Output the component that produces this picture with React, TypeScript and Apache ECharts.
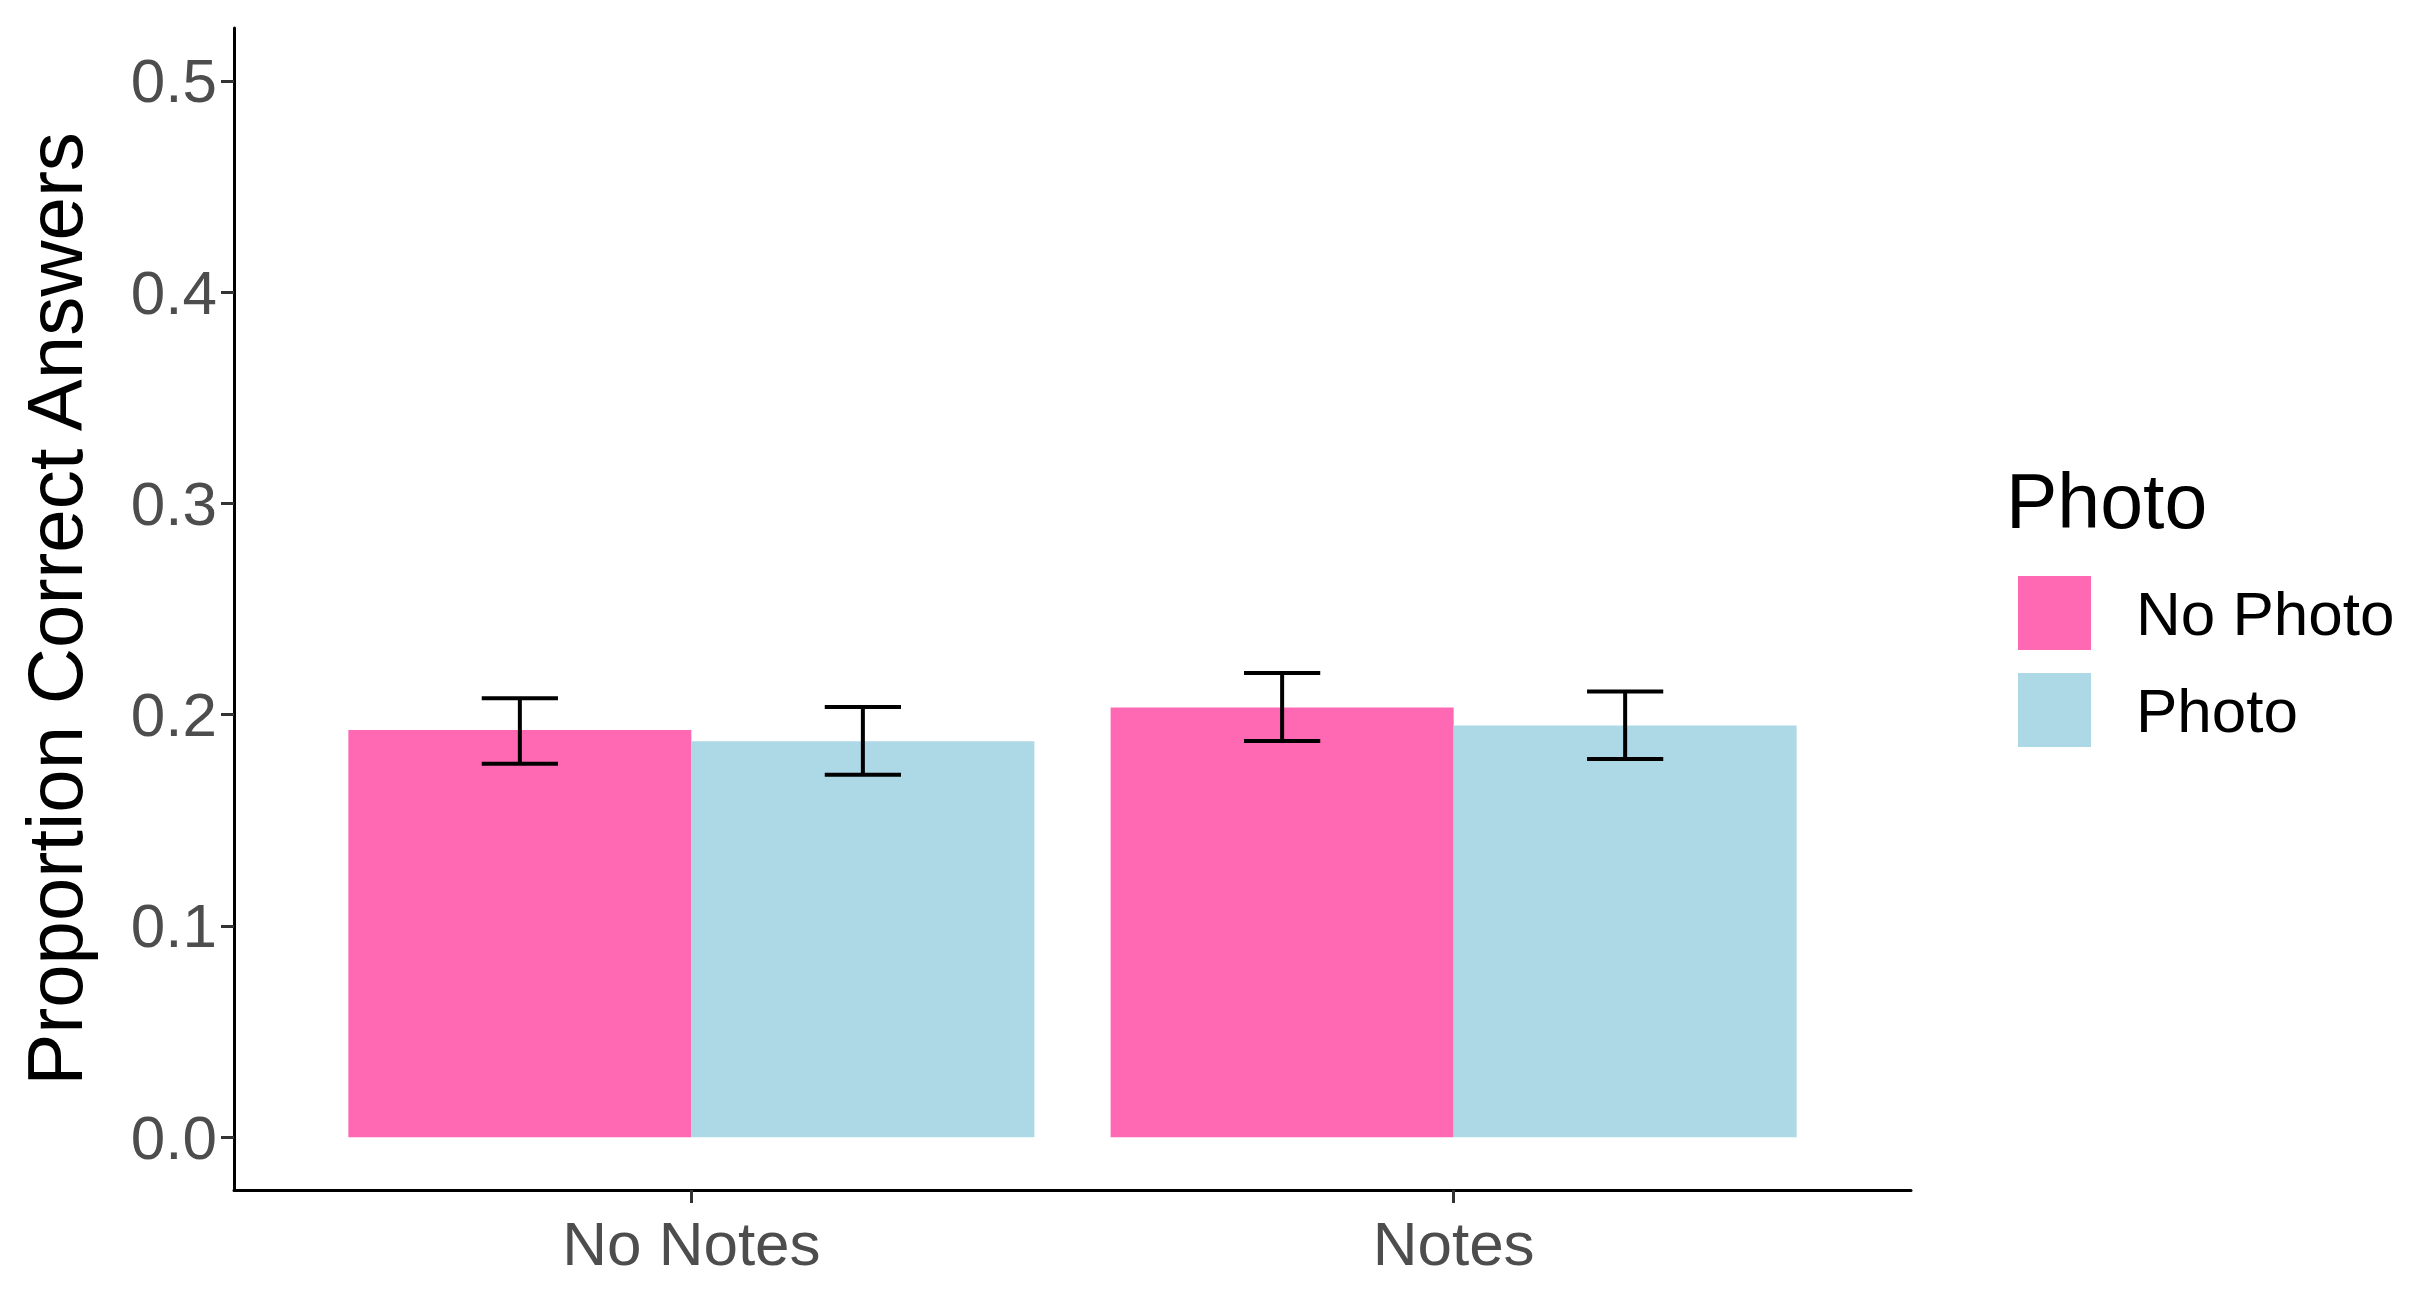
import React, { useEffect, useRef } from "react";
import * as echarts from "echarts";

const categories = ["No Notes", "Notes"];
const seriesNames = ["No Photo", "Photo"];
const noPhotoMeans = [0.1927, 0.2034];
const photoMeans = [0.1874, 0.1948];
const noPhotoLow = [0.1767, 0.1875];
const noPhotoHigh = [0.2077, 0.2197];
const photoLow = [0.1715, 0.179];
const photoHigh = [0.2036, 0.2109];
const yTicks = [0, 0.1, 0.2, 0.3, 0.4, 0.5];
const colors = ["#FF69B4", "#ADD8E6"];

const FONT = "'Liberation Sans', Arial, sans-serif";

export default function App() {
  const ref = useRef<HTMLDivElement>(null);
  useEffect(() => {
    if (!ref.current) return;
    const chart = echarts.init(ref.current, null, { renderer: "svg" });
    const plotLeft = 234;
    const plotRight = 1911;
    const plotW = plotRight - plotLeft;
    const unit = plotW / 2.2;
    const top = 28;
    const height = 1162;
    const yMin = -0.025;
    const yMax = 0.525;

    const makeErr = (lows: number[], highs: number[], sign: number, name: string) => ({
      type: "custom",
      name: name + " err",
      xAxisIndex: 1,
      yAxisIndex: 1,
      silent: true,
      data: categories.map((_, i) => [i, lows[i], highs[i]]),
      renderItem: (params: any, api: any) => {
        const band = api.size([1, 0])[0];
        const barW = band * 0.45;
        const cx = api.coord([api.value(0), 0])[0] + (sign * barW) / 2;
        const lo = api.coord([api.value(0), api.value(1)])[1];
        const hi = api.coord([api.value(0), api.value(2)])[1];
        const half = band * 0.05;
        const style = { stroke: "#000", lineWidth: 4, fill: "none" };
        return {
          type: "group",
          children: [
            { type: "line", shape: { x1: cx, y1: lo, x2: cx, y2: hi }, style },
            { type: "line", shape: { x1: cx - half, y1: lo, x2: cx + half, y2: lo }, style },
            { type: "line", shape: { x1: cx - half, y1: hi, x2: cx + half, y2: hi }, style },
          ],
        };
      },
      z: 10,
    });

    chart.setOption({
      animation: false,
      backgroundColor: "#fff",
      textStyle: { fontFamily: FONT },
      title: {
        text: "Photo",
        left: 2006,
        top: 462,
        padding: 0,
        textStyle: { fontSize: 77, fontWeight: "normal", color: "#000", fontFamily: FONT },
      },
      legend: {
        orient: "vertical",
        left: 2018,
        top: 576,
        padding: 0,
        itemWidth: 73,
        itemHeight: 74,
        itemGap: 23,
        icon: "rect",
        data: seriesNames,
        textStyle: { fontSize: 62, color: "#000", fontFamily: FONT, padding: [0, 0, 0, 40] },
      },
      grid: [
        { left: plotLeft, top, width: plotW, height },
        { left: plotLeft + 0.1 * unit, top, width: 2 * unit, height },
      ],
      xAxis: [
        {
          type: "value",
          gridIndex: 0,
          min: 0,
          max: 1,
          axisLine: { show: true, onZero: false, lineStyle: { color: "#000", width: 3 } },
          axisTick: { show: false },
          axisLabel: { show: false },
          splitLine: { show: false },
        },
        {
          type: "category",
          gridIndex: 1,
          data: categories,
          axisLine: { show: false, onZero: false },
          axisTick: { show: true, alignWithLabel: true, length: 13, lineStyle: { color: "#333", width: 3 } },
          axisLabel: { fontSize: 62, color: "#4d4d4d", margin: 22, fontFamily: FONT },
          splitLine: { show: false },
        },
      ],
      yAxis: [
        {
          type: "value",
          gridIndex: 0,
          min: yMin,
          max: yMax,
          name: "Proportion Correct Answers",
          nameLocation: "middle",
          nameGap: 140,
          nameRotate: 90,
          nameTextStyle: { fontSize: 78, color: "#000", fontFamily: FONT },
          axisLine: { show: true, onZero: false, lineStyle: { color: "#000", width: 3 } },
          axisTick: { show: true, length: 13, lineStyle: { color: "#333", width: 3 }, customValues: yTicks },
          axisLabel: {
            fontSize: 62,
            color: "#4d4d4d",
            margin: 17,
            fontFamily: FONT,
            customValues: yTicks,
            formatter: (v: number) => v.toFixed(1),
          },
          splitLine: { show: false },
        },
        {
          type: "value",
          gridIndex: 1,
          min: yMin,
          max: yMax,
          show: false,
          splitLine: { show: false },
        },
      ],
      series: [
        {
          type: "bar",
          name: seriesNames[0],
          xAxisIndex: 1,
          yAxisIndex: 1,
          data: noPhotoMeans,
          barGap: "0%",
          barCategoryGap: "10%",
          itemStyle: { color: colors[0] },
        },
        {
          type: "bar",
          name: seriesNames[1],
          xAxisIndex: 1,
          yAxisIndex: 1,
          data: photoMeans,
          barGap: "0%",
          barCategoryGap: "10%",
          itemStyle: { color: colors[1] },
        },
        makeErr(noPhotoLow, noPhotoHigh, -1, seriesNames[0]),
        makeErr(photoLow, photoHigh, 1, seriesNames[1]),
      ],
    });
    return () => chart.dispose();
  }, []);
  return (
    <div
      ref={ref}
      style={{ position: "fixed", left: 0, top: 0, width: 2410, height: 1299, background: "#fff" }}
    />
  );
}
